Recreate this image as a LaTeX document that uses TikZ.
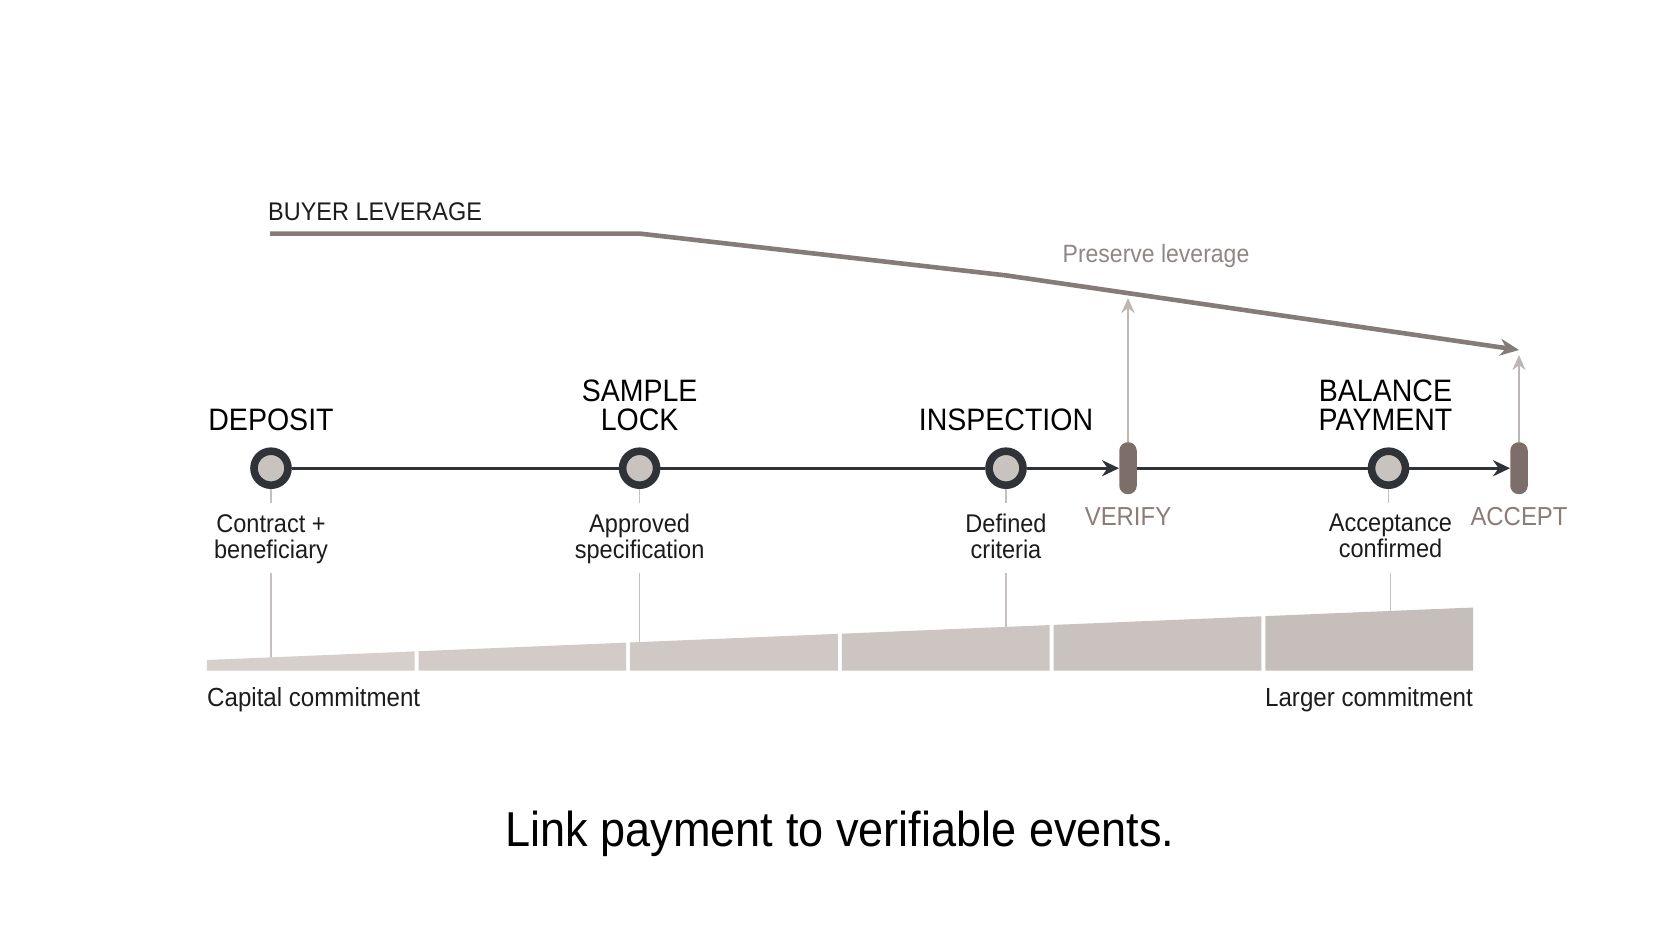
\documentclass[tikz,border=0pt]{standalone}
\usepackage{fontspec}
\setmainfont{Liberation Sans}[FakeStretch=0.92]
\usetikzlibrary{arrows.meta}
\definecolor{ink}{HTML}{1C1C1C}
\definecolor{ring}{HTML}{2F3237}
\definecolor{dotfill}{HTML}{C9C3BF}
\definecolor{gatecol}{HTML}{7E6E6A}
\definecolor{gatetext}{HTML}{8C7C78}
\definecolor{levcol}{HTML}{857B79}
\definecolor{upcol}{HTML}{BDB7B3}
\definecolor{tickcol}{HTML}{C6C0BD}
\definecolor{prescol}{HTML}{8E8785}
\newcommand\fsz[2]{\fontsize{#1}{#2}\selectfont}
\begin{document}
\begin{tikzpicture}[x=1pt,y=-1pt,
  milestone/.style={circle, draw=ring, line width=7.6pt, fill=dotfill, minimum size=34pt, inner sep=0pt},
  gate/.style={rectangle, rounded corners=8.5pt, fill=gatecol, minimum width=17.5pt, minimum height=52pt, inner sep=0pt},
  heading/.style={anchor=south, inner sep=0pt, text depth=0pt, align=center, font=\fsz{31}{29}, text=black},
  sublabel/.style={anchor=north, inner sep=0pt, align=center, font=\fsz{25.6}{26}, text=ink},
  gatelabel/.style={anchor=base, inner sep=0pt, font=\fsz{26}{28}, text=gatetext},
  tl/.style={draw=ring, line width=3pt},
  tlarrow/.style={tl, -{Stealth[length=17pt,width=16pt]}},
  uparrow/.style={draw=upcol, line width=2pt, -{Stealth[length=15pt,width=13pt]}},
  lev/.style={draw=levcol, line width=4.6pt, line join=round, -{Stealth[length=19pt,width=17pt]}},
  tick/.style={draw=tickcol, line width=1.5pt},
  plain/.style={inner sep=0pt, font=\fsz{26.2}{28}, text=ink}
]
\useasboundingbox[fill=white] (0,0) rectangle (1680,937);

% coordinates
\coordinate (barb) at (0,668);
\coordinate (tstart) at (0,573);
\coordinate (l1) at (270,233.6);
\coordinate (l2) at (639.6,233.6);
\coordinate (l3) at (1006,275.4);
\coordinate (l4) at (1519,350);
\coordinate (vtip) at (1128,298);
\coordinate (atip) at (1519,355);

% headings
\node[heading] (hdep) at (271,431) {DEPOSIT};
\node[heading] (hsam) at (639.6,431) {SAMPLE\\LOCK};
\node[heading] (hins) at (1006,431) {INSPECTION};
\node[heading] (hbal) at (1385.5,431) {BALANCE\\PAYMENT};

% sub labels
\node[sublabel] (sdep) at (271,514) {Contract +\\beneficiary};
\node[sublabel] (ssam) at (639.6,514) {Approved\\specification};
\node[sublabel] (sins) at (1006,514) {Defined\\criteria};
\node[sublabel] (sbal) at (1390.5,514) {Acceptance\\confirmed};

% ticks to bars
\foreach \n in {sdep,ssam,sins,sbal}{
  \draw[tick] (\n.south |- tstart) -- (\n.south |- barb);
}

% commitment bars
\foreach \i/\c in {0/D6CFCB,1/D2CBC7,2/CFC8C4,3/CCC5C1,4/C9C2BE,5/C5BEBA}{
  \pgfmathsetmacro\xa{206.8+\i*211.7}
  \pgfmathsetmacro\xb{\xa+207.7}
  \pgfmathsetmacro\ya{660-0.041456*(\xa-206.8)}
  \pgfmathsetmacro\yb{660-0.041456*(\xb-206.8)}
  \definecolor{segc}{HTML}{\c}
  \fill[segc] (\xa,670.7) -- (\xa,\ya) -- (\xb,\yb) -- (\xb,670.7) -- cycle;
}
\node[plain, anchor=base west] (capl) at (207,706) {Capital commitment};
\node[plain, anchor=base east] (capr) at (1473,706) {Larger commitment};

% milestones
\node[milestone] (dep) at (271,468.2) {};
\node[milestone] (sam) at (639.6,468.2) {};
\node[milestone] (ins) at (1006,468.2) {};
\node[gate] (ver) at (1128,468.2) {};
\node[milestone] (bal) at (1388.5,468.2) {};
\node[gate] (acc) at (1519,468.2) {};

\foreach \n in {dep,sam,ins,bal}{
  \draw[tick] (\n.south) -- ++(0,14);
}

% timeline
\draw[tl] (dep) -- (sam);
\draw[tl] (sam) -- (ins);
\draw[tlarrow] (ins) -- (ver);
\draw[tl] (ver) -- (bal);
\draw[tlarrow] (bal) -- (acc);

\node[gatelabel] (vlab) at (1128,525) {VERIFY};
\node[gatelabel] (alab) at (1519,525) {ACCEPT};

% upward arrows
\draw[uparrow] (ver.north) -- (vtip);
\draw[uparrow] (acc.north) -- (atip);

% buyer leverage
\draw[lev] (l1) -- (l2) -- (l3) -- (l4);
\node[inner sep=0pt, anchor=base west, font=\fsz{25.5}{28}, text=ink] (blev) at (268,220) {BUYER LEVERAGE};
\node[inner sep=0pt, anchor=base, font=\fsz{25}{28}, text=prescol] (pres) at (1156,262) {Preserve leverage};

% title
\node[inner sep=0pt, anchor=base, font=\fsz{49}{56}, text=black] (title) at (840,846) {Link payment to verifiable events.};
\end{tikzpicture}
\end{document}
